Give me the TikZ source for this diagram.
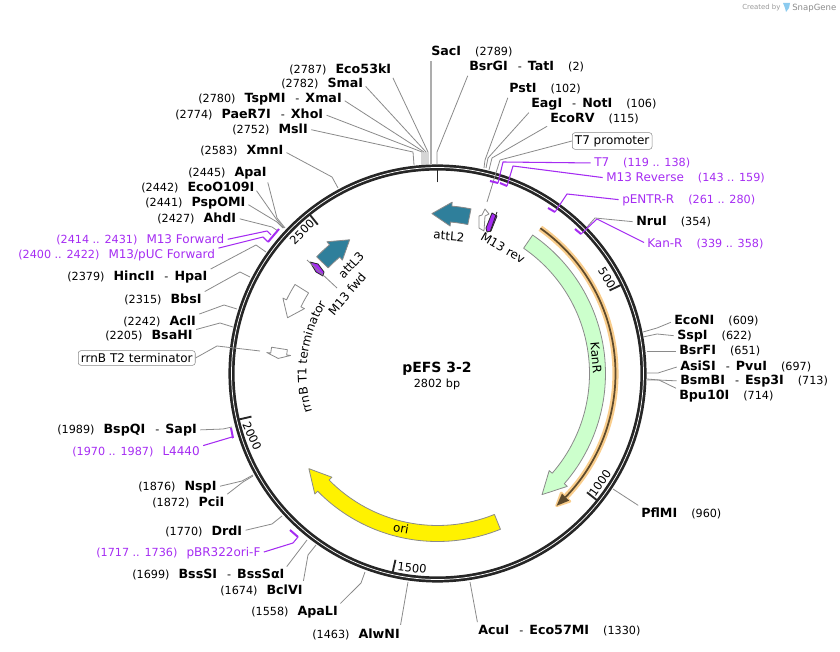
\documentclass[tikz,border=0pt]{standalone}
\usepackage{fontspec}
\setmainfont{DejaVu Sans}
\usetikzlibrary{decorations.text}

\definecolor{ringdark}{HTML}{262626}
\definecolor{leadgray}{HTML}{8A8A8A}
\definecolor{primerpurple}{HTML}{A52CF2}
\definecolor{attteal}{HTML}{2F7F9B}
\definecolor{kangreen}{HTML}{CCFFCC}
\definecolor{halo}{HTML}{F9CD8C}
\definecolor{halodark}{HTML}{5E4A2C}
\definecolor{logoblue}{HTML}{8CCBEF}

\newcommand{\enzname}[1]{{\fontsize{9.5}{11}\selectfont\bfseries #1}}
\newcommand{\enzpos}[1]{{\fontsize{8.4}{11}\selectfont #1}}
\newcommand{\primername}[1]{{\fontsize{9}{11}\selectfont #1}}
\newcommand{\primerpos}[1]{{\fontsize{8.4}{11}\selectfont #1}}
\newcommand{\gapname}{\hspace{6.8pt}}
\newcommand{\gappos}{\hspace{10.5pt}}
\newcommand{\dashname}{\hspace{7.5pt}\enzpos{-}\hspace{4.5pt}}
\newcommand{\feature}[4][]{\draw[feat,#1] (#2:168) arc[start angle=#2,end angle=#3,radius=168] -- (#3:172) -- (#4:160) -- (#3:148) -- (#3:152) arc[start angle=#3,end angle=#2,radius=152] -- cycle;}

\tikzset{
  enz/.style={anchor=west,inner sep=0pt,text=black},
  primer/.style={anchor=west,inner sep=0pt,text=primerpurple},
  boxlabel/.style={anchor=west,draw=leadgray,rounded corners=2pt,inner sep=2pt,fill=white,font=\fontsize{9}{11}\selectfont},
  lead/.style={draw=leadgray,line width=0.6pt,shorten <=2.5pt,line join=round},
  primerlead/.style={draw=primerpurple,line width=0.8pt,shorten <=2.5pt,line join=round},
  primertick/.style={draw=primerpurple,line width=1.5pt},
  feat/.style={draw=leadgray,line width=0.6pt,line join=round},
  featlabel/.style={inner sep=0pt,font=\fontsize{9}{11}\selectfont},
  scalelabel/.style={inner sep=0pt,font=\fontsize{8.6}{11}\selectfont},
}

\begin{document}
\begin{tikzpicture}[x=0.75pt,y=-0.75pt]

\useasboundingbox (0,0) rectangle (840,652);

% ring and features, angles measured around the centre
\begin{scope}[shift={(437.5,373.5)},y=0.75pt]
\draw[ringdark,line width=4.6pt] (0,0) circle (206);
\draw[white,line width=0.55pt] (0,0) circle (206);

\foreach \p in {0,500,1000,1500,2000,2500}
  \draw[ringdark,line width=1.4pt] ({90-\p/2802*360}:191) -- ({90-\p/2802*360}:204);

\feature[fill=kangreen]{55.5}{-41}{-49.2}
\feature[fill=yellow]{-68}{-135.5}{-143.5}
\feature[fill=attteal]{78.5}{85.1}{92}
\feature[fill=attteal]{136}{130}{123.3}
\feature[fill=white]{148}{154}{159.6}
\feature[fill=white]{171}{173}{174.6}

% orange band with its arrow
\draw[halo,line width=4.6pt] (54.7:178) arc[start angle=54.7,end angle=-44,radius=178];
\fill[halo,draw=halo,line width=2pt,line join=round] (-44:184) -- (-48:178) -- (-44:172) -- cycle;
\draw[halodark,line width=1.3pt] (54.7:178) arc[start angle=54.7,end angle=-44,radius=178];
\fill[halodark] (-44:183) -- (-48:178) -- (-44:173) -- cycle;

\path[decorate,decoration={text along path,text align=center,text={|\fontsize{9}{11}\selectfont|rrnB T1 terminator}}]
  (197.5:131) arc[start angle=197.5,end angle=147.5,radius=131];
\end{scope}

% small marks near the start of the map
\draw[feat,fill=white] (485,209) -- (489,214) -- (485,216) -- (484,231) -- (479,228) -- (479,216) -- (482,215) -- cycle;
\draw[feat,draw=ringdark,fill=primerpurple] (492,213) -- (497,216) -- (491,231) -- (487,232) -- (486,228) -- cycle;
\draw[feat,draw=ringdark,fill=primerpurple] (310,262) -- (318,264) -- (324,272) -- (323,276) -- (316,272) -- cycle;

% centre
\node[inner sep=0pt,font=\fontsize{10.5}{12}\selectfont\bfseries] (pname) at (437,369) {pEFS 3-2};
\node[inner sep=0pt,font=\fontsize{8.4}{11}\selectfont] (psize) at (437,384) {2802 bp};

% labels inside the ring
\node[scalelabel,rotate=-58] (lab500) at (607,278) {500};
\node[scalelabel,rotate=55] (lab1000) at (600,483) {1000};
\node[scalelabel,rotate=-6] (lab1500) at (412,568) {1500};
\node[scalelabel,rotate=-65] (lab2000) at (252,436) {2000};
\node[scalelabel,rotate=45] (lab2500) at (302,232) {2500};
\node[featlabel,rotate=-5] (attLtwo) at (449,236) {attL2};
\node[featlabel,rotate=-30] (mrev) at (503,248) {M13 rev};
\node[featlabel,rotate=-85] (kanR) at (596,358) {KanR};
\node[featlabel,rotate=-10] (ori) at (401,528) {ori};
\node[featlabel,rotate=47] (attLthree) at (351,265) {attL3};
\node[featlabel,rotate=50] (mfwd) at (347,294) {M13 fwd};

\coordinate (mfwdA) at (307,260); \coordinate (mfwdB) at (337,288);
\draw[lead,shorten <=0pt] (mfwdA) -- (mfwdB);
\coordinate (mrevA) at (497,212); \coordinate (mrevB) at (490,232);
\draw[lead,draw=ringdark,shorten <=0pt] (mrevA) -- (mrevB);

% enzymes, clockwise from the top
\node[enz] (sacI) at (431,52) {\enzname{SacI}\gappos\enzpos{(2789)}};
\coordinate (sacIs) at (431,165); \draw[lead,draw=leadgray!70,line width=1pt] (sacI.south west) -- (sacIs);
\node[enz] (tatI) at (469,67) {\enzname{BsrGI}\dashname\enzname{TatI}\gappos\enzpos{(2)}};
\coordinate (tatIs) at (437,165); \draw[lead] (tatI.south west) -- (437,152) -- (tatIs);
\node[enz] (pstI) at (509,89) {\enzname{PstI}\gappos\enzpos{(102)}};
\coordinate (pstIs) at (484,168); \draw[lead] (pstI.south west) -- (485,160) -- (pstIs);
\node[enz] (notI) at (531,104) {\enzname{EagI}\dashname\enzname{NotI}\gappos\enzpos{(106)}};
\coordinate (notIs) at (486,168); \draw[lead] (notI.south west) -- (488,158) -- (notIs);
\node[enz] (ecoRV) at (550,119) {\enzname{EcoRV}\gappos\enzpos{(115)}};
\coordinate (ecoRVs) at (489,170); \draw[lead] (ecoRV.south west) -- (492,158) -- (ecoRVs);
\node[boxlabel] (tpromoter) at (572,141) {T7 promoter};
\coordinate (tpromoters) at (487,202); \draw[lead,shorten <=0pt] (tpromoter.west) -- (500,160) -- (tpromoters);
\node[enz] (nruI) at (636,222) {\enzname{NruI}\gappos\enzpos{(354)}};
\coordinate (nruIs) at (587,227); \draw[lead] (nruI.west) -- (595,218) -- (nruIs);
\node[enz] (ecoNI) at (674,321) {\enzname{EcoNI}\gappos\enzpos{(609)}};
\coordinate (ecoNIs) at (643,332); \draw[lead] (ecoNI.west) -- (657,328) -- (ecoNIs);
\node[enz] (sspI) at (677,336) {\enzname{SspI}\gappos\enzpos{(622)}};
\coordinate (sspIs) at (643,337); \draw[lead] (sspI.west) -- (657,334) -- (sspIs);
\node[enz] (bsrFI) at (679,351) {\enzname{BsrFI}\gappos\enzpos{(651)}};
\coordinate (bsrFIs) at (647,351); \draw[lead] (bsrFI.west) -- (bsrFIs);
\node[enz] (pvuI) at (680,366) {\enzname{AsiSI}\dashname\enzname{PvuI}\gappos\enzpos{(697)}};
\coordinate (pvuIs) at (647,373); \draw[lead] (pvuI.west) -- (658,373) -- (pvuIs);
\node[enz] (esp3I) at (680,381) {\enzname{BsmBI}\dashname\enzname{Esp3I}\gappos\enzpos{(713)}};
\coordinate (esp3Is) at (647,380); \draw[lead] (esp3I.west) -- (658,380) -- (esp3Is);
\node[enz] (bpu10I) at (679,396) {\enzname{Bpu10I}\gappos\enzpos{(714)}};
\coordinate (bpu10Is) at (647,379); \draw[lead] (bpu10I.north west) -- (659,380) -- (bpu10Is);
\node[enz] (pflMI) at (641,513) {\enzname{PflMI}\gappos\enzpos{(960)}};
\coordinate (pflMIs) at (613,489); \draw[lead] (pflMI.north west) -- (pflMIs);
\node[enz] (acuI) at (478,631) {\enzname{AcuI}\dashname\enzname{Eco57MI}\gappos\enzpos{(1330)}};
\coordinate (acuIs) at (470,582); \draw[lead] (acuI.north west) -- (acuIs);

\node[enz] (alwNI) at (312,634) {\enzpos{(1463)}\gapname\enzname{AlwNI}};
\coordinate (alwNIs) at (408,582); \draw[lead] (alwNI.north east) -- (alwNIs);
\node[enz] (apaLI) at (251,612) {\enzpos{(1558)}\gapname\enzname{ApaLI}};
\coordinate (apaLIs) at (365,572); \draw[lead] (apaLI.north east) -- (361,583) -- (apaLIs);
\node[enz] (bclVI) at (220,590) {\enzpos{(1674)}\gapname\enzname{BclVI}};
\coordinate (bclVIs) at (316,545); \draw[lead] (bclVI.north east) -- (308,555) -- (bclVIs);
\node[enz] (bssSI) at (132,575) {\enzpos{(1699)}\gapname\enzname{BssSI}\dashname\enzname{BssSαI}};
\coordinate (bssSIs) at (307,540); \draw[lead] (bssSI.north east) -- (bssSIs);
\node[enz] (drdI) at (165,531) {\enzpos{(1770)}\gapname\enzname{DrdI}};
\coordinate (drdIs) at (282,516); \draw[lead] (drdI.east) -- (272,524) -- (drdIs);
\node[enz] (pciI) at (152,502) {\enzpos{(1872)}\gapname\enzname{PciI}};
\coordinate (pciIs) at (253,476); \draw[lead] (pciI.north east) -- (243,482) -- (pciIs);
\node[enz] (nspI) at (138,487) {\enzpos{(1876)}\gapname\enzname{NspI}};
\coordinate (nspIs) at (253,475); \draw[lead] (nspI.east) -- (242,481) -- (nspIs);
\node[enz] (sapI) at (57,430) {\enzpos{(1989)}\gapname\enzname{BspQI}\dashname\enzname{SapI}};
\coordinate (sapIs) at (232,427); \draw[lead] (sapI.east) -- (223,429) -- (sapIs);
\node[boxlabel] (rrnT) at (78,358) {rrnB T2 terminator};
\coordinate (rrnTs) at (260,351); \draw[lead,shorten <=0pt] (rrnT.east) -- (217,346) -- (rrnTs);
\node[enz] (bsaHI) at (105,336) {\enzpos{(2205)}\gapname\enzname{BsaHI}};
\coordinate (bsaHIs) at (233,327); \draw[lead] (bsaHI.north east) -- (220,323) -- (bsaHIs);
\node[enz] (aclI) at (123,321) {\enzpos{(2242)}\gapname\enzname{AclI}};
\coordinate (aclIs) at (237,309); \draw[lead] (aclI.north east) -- (224,305) -- (aclIs);
\node[enz] (bbsI) at (124,299) {\enzpos{(2315)}\gapname\enzname{BbsI}};
\coordinate (bbsIs) at (250,277); \draw[lead] (bbsI.north east) -- (240,272) -- (bbsIs);
\node[enz] (hpaI) at (67,277) {\enzpos{(2379)}\gapname\enzname{HincII}\dashname\enzname{HpaI}};
\coordinate (hpaIs) at (266,252); \draw[lead] (hpaI.north east) -- (256,245) -- (hpaIs);
\node[enz] (ahdI) at (157,218) {\enzpos{(2427)}\gapname\enzname{AhdI}};
\coordinate (ahdIs) at (278,231); \draw[lead] (ahdI.east) -- (272,227) -- (ahdIs);
\node[enz] (pspOMI) at (145,203) {\enzpos{(2441)}\gapname\enzname{PspOMI}};
\coordinate (pspOMIs) at (283,228); \draw[lead] (pspOMI.east) -- (277,222) -- (pspOMIs);
\node[enz] (ecoO) at (141,188) {\enzpos{(2442)}\gapname\enzname{EcoO109I}};
\coordinate (ecoOs) at (284,228); \draw[lead] (ecoO.east) -- (277,220) -- (ecoOs);
\node[enz] (apaI) at (188,173) {\enzpos{(2445)}\gapname\enzname{ApaI}};
\coordinate (apaIs) at (285,228); \draw[lead] (apaI.south east) -- (277,218) -- (apaIs);
\node[enz] (xmnI) at (200,151) {\enzpos{(2583)}\gapname\enzname{XmnI}};
\coordinate (xmnIs) at (338,188); \draw[lead] (xmnI.east) -- (332,177) -- (xmnIs);
\node[enz] (mslI) at (232,129) {\enzpos{(2752)}\gapname\enzname{MslI}};
\coordinate (mslIs) at (414,165); \draw[lead] (mslI.east) -- (413,152) -- (mslIs);
\node[enz] (xhoI) at (175,114) {\enzpos{(2774)}\gapname\enzname{PaeR7I}\dashname\enzname{XhoI}};
\coordinate (xhoIs) at (422,165); \draw[lead] (xhoI.east) -- (422,152) -- (xhoIs);
\node[enz] (xmaI) at (198,99) {\enzpos{(2780)}\gapname\enzname{TspMI}\dashname\enzname{XmaI}};
\coordinate (xmaIs) at (424,165); \draw[lead] (xmaI.east) -- (424,152) -- (xmaIs);
\node[enz] (smaI) at (281,84) {\enzpos{(2782)}\gapname\enzname{SmaI}};
\coordinate (smaIs) at (426,165); \draw[lead] (smaI.east) -- (426,152) -- (smaIs);
\node[enz] (ecoFt) at (289,69) {\enzpos{(2787)}\gapname\enzname{Eco53kI}};
\coordinate (ecoFts) at (428,165); \draw[lead] (ecoFt.south east) -- (428,152) -- (ecoFts);

% primers
\coordinate (tsevA) at (490,181); \coordinate (tsevB) at (498,183); \draw[primertick] (tsevA) -- (tsevB);
\node[primer] (tsev) at (594,163) {\primername{T7}\gappos\primerpos{(119 .. 138)}};
\draw[primerlead] (tsev.west) -- (503,162) -- (tsevB);
\coordinate (mrevtA) at (500,183); \coordinate (mrevtB) at (507,186); \draw[primertick] (mrevtA) -- (mrevtB);
\node[primer] (mreverse) at (606,178) {\primername{M13 Reverse}\gappos\primerpos{(143 .. 159)}};
\draw[primerlead] (mreverse.west) -- (513,166) -- (mrevtB);
\coordinate (pentrA) at (548,208); \coordinate (pentrB) at (555,212); \draw[primertick] (pentrA) -- (pentrB);
\node[primer] (pentr) at (622,200) {\primername{pENTR-R}\gappos\primerpos{(261 .. 280)}};
\draw[primerlead] (pentr.west) -- (567,194) -- (pentrB);
\coordinate (kanA) at (575,229); \coordinate (kanB) at (581,234); \draw[primertick] (kanA) -- (kanB);
\node[primer] (kanr) at (647,244) {\primername{Kan-R}\gappos\primerpos{(339 .. 358)}};
\draw[primerlead] (kanr.west) -- (597,219) -- (kanB);
\coordinate (pbrA) at (290,530); \coordinate (pbrB) at (298,537); \draw[primertick] (pbrA) -- (pbrB);
\node[primer] (pbr) at (96,553) {\primerpos{(1717 .. 1736)}\gapname\primername{pBR322ori-F}};
\draw[primerlead] (pbr.east) -- (293,543) -- (pbrB);
\coordinate (lfourA) at (231,428); \coordinate (lfourB) at (233,438); \draw[primertick] (lfourA) -- (lfourB);
\node[primer] (lfour) at (72,452) {\primerpos{(1970 .. 1987)}\gapname\primername{L4440}};
\draw[primerlead] (lfour.north east) -- (232,437) -- (lfourB);
\coordinate (mfA) at (268,242); \coordinate (mfB) at (279,229); \draw[primertick] (mfA) -- (mfB);
\node[primer] (mpuc) at (18,255) {\primerpos{(2400 .. 2422)}\gapname\primername{M13/pUC Forward}};
\draw[primerlead] (mpuc.north east) -- (263,237) -- (mfA);
\node[primer] (mforward) at (56,240) {\primerpos{(2414 .. 2431)}\gapname\primername{M13 Forward}};
\coordinate (mfC) at (271,235); \draw[primerlead] (mforward.east) -- (267,231) -- (mfC);

% corner mark
\node[inner sep=0pt,anchor=west,text=black!40,font=\fontsize{5.2}{6}\selectfont] (created) at (742,8) {Created by};
\fill[logoblue] (783,3) -- (790,3) -- (789,8) -- (786,12) -- (785,8) -- cycle;
\node[inner sep=0pt,anchor=west,text=black!45,font=\fontsize{6.4}{8}\selectfont] (snapgene) at (792,8) {SnapGene};

\end{tikzpicture}
\end{document}
